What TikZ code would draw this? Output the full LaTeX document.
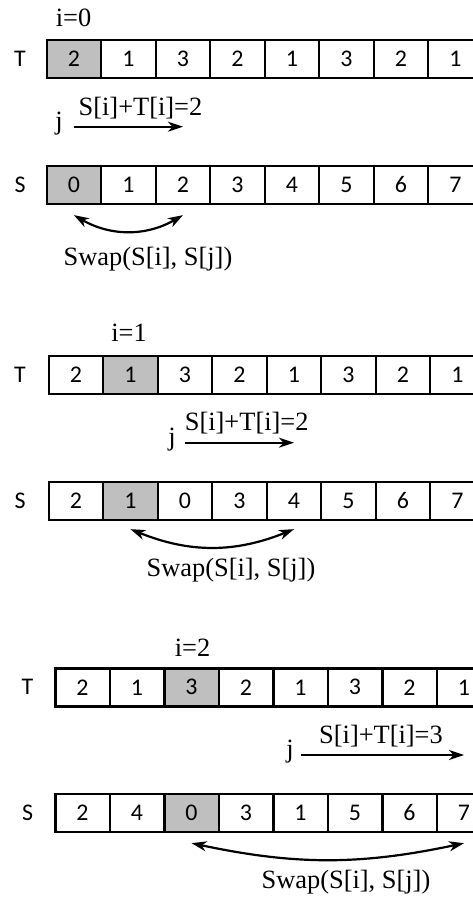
\documentclass[tikz,border=0pt]{standalone}
\usepackage{fontspec}
\setmainfont{Liberation Serif}
\newfontfamily\cellfont{Carlito}
\usetikzlibrary{arrows.meta}

\begin{document}
\begin{tikzpicture}[x=1bp,y=1bp]
		\tikzstyle{every node}+=[inner sep=0pt]
		\tikzstyle{cell}=[draw=black, line width=2.4bp, minimum width=54.5bp, minimum height=38bp, font=\cellfont\fontsize{24}{28}\selectfont]
		\tikzstyle{hit}=[cell, fill=black!25]
		\tikzstyle{rowname}=[font=\cellfont\fontsize{24}{28}\selectfont]
		\tikzstyle{lab}=[anchor=base, font=\fontsize{26.5}{30}\selectfont]
		\tikzstyle{arr}=[-{Stealth[length=15bp, width=10bp, inset=4.5bp]}, line width=2.2bp]
		\tikzstyle{swaparr}=[{Stealth[length=15bp, width=10bp, inset=4.5bp]}-{Stealth[length=15bp, width=10bp, inset=4.5bp]}, line width=2.2bp]
		\useasboundingbox (0,0) rectangle (473,-897);
		\clip (0,0) rectangle (473,-897);
		\node [lab] (ia) at (73.5,-26.7) {i=0};
		\node [rowname] (tla) at (20,-59) {T};
		\node [hit] (ta0) at (73.95,-59) {2};
		\node [cell] (ta1) at (128.45,-59) {1};
		\node [cell] (ta2) at (182.95,-59) {3};
		\node [cell] (ta3) at (237.45,-59) {2};
		\node [cell] (ta4) at (291.95,-59) {1};
		\node [cell] (ta5) at (346.45,-59) {3};
		\node [cell] (ta6) at (400.95,-59) {2};
		\node [cell] (ta7) at (455.45,-59) {1};
		\node [lab] (ja) at (59,-129.3) {j};
		\draw [arr] (ta0 |- 0,-126.7) -- (ta2 |- 0,-126.7);
		\node [lab] (suma) at (140.5,-115) {S[i]+T[i]=2};
		\node [rowname] (sla) at (20,-185) {S};
		\node [hit] (sa0) at (73.95,-185) {0};
		\node [cell] (sa1) at (128.45,-185) {1};
		\node [cell] (sa2) at (182.95,-185) {2};
		\node [cell] (sa3) at (237.45,-185) {3};
		\node [cell] (sa4) at (291.95,-185) {4};
		\node [cell] (sa5) at (346.45,-185) {5};
		\node [cell] (sa6) at (400.95,-185) {6};
		\node [cell] (sa7) at (455.45,-185) {7};
		\draw [swaparr] ([yshift=-10]sa0.south) to [bend right=30] ([yshift=-10]sa2.south);
		\node [lab] (swa) at (148,-265) {Swap(S[i], S[j])};
		\node [lab] (ib) at (129,-341.7) {i=1};
		\node [rowname] (tlb) at (20,-374.7) {T};
		\node [cell] (tb0) at (75.95,-374.7) {2};
		\node [hit] (tb1) at (130.45,-374.7) {1};
		\node [cell] (tb2) at (184.95,-374.7) {3};
		\node [cell] (tb3) at (239.45,-374.7) {2};
		\node [cell] (tb4) at (293.95,-374.7) {1};
		\node [cell] (tb5) at (348.45,-374.7) {3};
		\node [cell] (tb6) at (402.95,-374.7) {2};
		\node [cell] (tb7) at (457.45,-374.7) {1};
		\node [lab] (jb) at (172,-445) {j};
		\draw [arr] (tb2 |- 0,-442.7) -- (tb4 |- 0,-442.7);
		\node [lab] (sumb) at (246.7,-430.7) {S[i]+T[i]=2};
		\node [rowname] (slb) at (20,-501) {S};
		\node [cell] (sb0) at (75.95,-501) {2};
		\node [hit] (sb1) at (130.45,-501) {1};
		\node [cell] (sb2) at (184.95,-501) {0};
		\node [cell] (sb3) at (239.45,-501) {3};
		\node [cell] (sb4) at (293.95,-501) {4};
		\node [cell] (sb5) at (348.45,-501) {5};
		\node [cell] (sb6) at (402.95,-501) {6};
		\node [cell] (sb7) at (457.45,-501) {7};
		\draw [swaparr] ([yshift=-8]sb1.south) to [bend right=22] ([yshift=-8]sb4.south);
		\node [lab] (swb) at (231,-576.7) {Swap(S[i], S[j])};
		\node [lab] (ic) at (192.5,-656) {i=2};
		\node [rowname] (tlc) at (27.5,-687.3) {T};
		\node [cell] (tc0) at (82.55,-687.3) {2};
		\node [cell] (tc1) at (137.05,-687.3) {1};
		\node [hit] (tc2) at (191.55,-687.3) {3};
		\node [cell] (tc3) at (246.05,-687.3) {2};
		\node [cell] (tc4) at (300.55,-687.3) {1};
		\node [cell] (tc5) at (355.05,-687.3) {3};
		\node [cell] (tc6) at (409.55,-687.3) {2};
		\node [cell] (tc7) at (464.05,-687.3) {1};
		\node [lab] (jc) at (290,-757.6) {j};
		\draw [arr] (tc4 |- 0,-755) -- (tc7 |- 0,-755);
		\node [lab] (sumc) at (381,-743.3) {S[i]+T[i]=3};
		\node [rowname] (slc) at (27.5,-813) {S};
		\node [cell] (sc0) at (82.55,-813) {2};
		\node [cell] (sc1) at (137.05,-813) {4};
		\node [hit] (sc2) at (191.55,-813) {0};
		\node [cell] (sc3) at (246.05,-813) {3};
		\node [cell] (sc4) at (300.55,-813) {1};
		\node [cell] (sc5) at (355.05,-813) {5};
		\node [cell] (sc6) at (409.55,-813) {6};
		\node [cell] (sc7) at (464.05,-813) {7};
		\draw [swaparr] ([yshift=-10]sc2.south) to [bend right=12] ([yshift=-10]sc7.south);
		\node [lab] (swc) at (346,-888.3) {Swap(S[i], S[j])};
	\end{tikzpicture}
\end{document}
